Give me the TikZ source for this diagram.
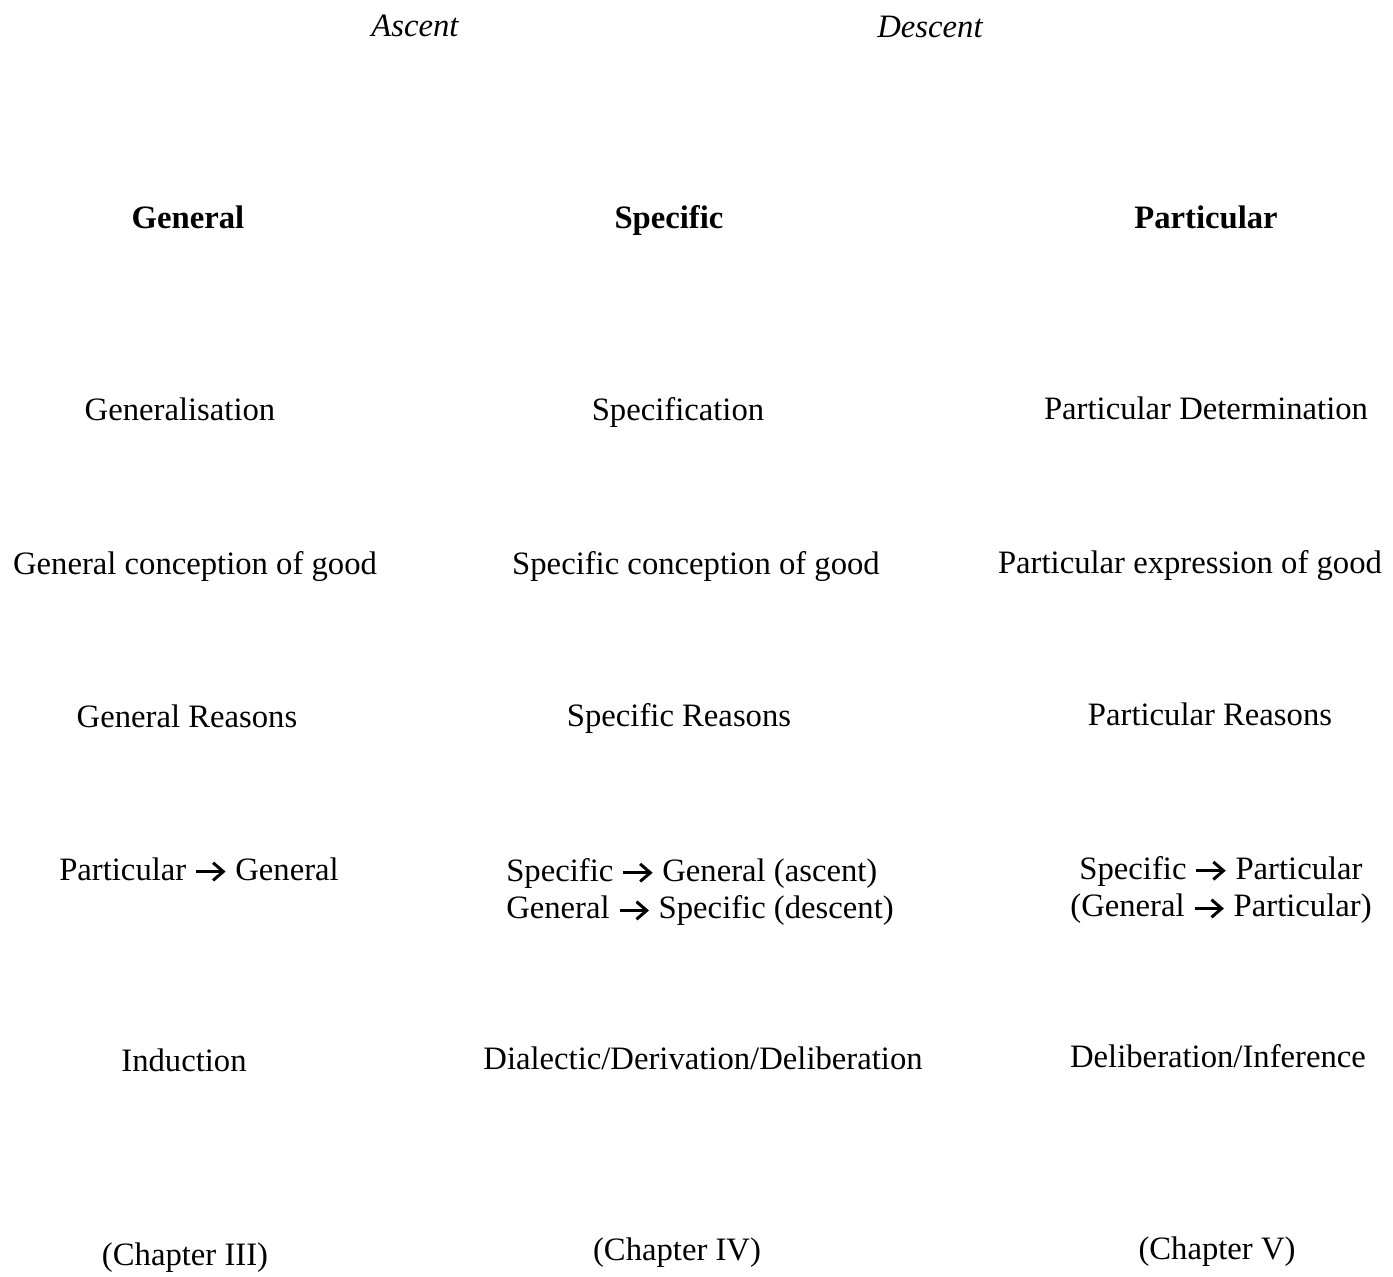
\documentclass[tikz,border=0pt]{standalone}
\usepackage{fontspec}
\setmainfont{Liberation Serif}
\usetikzlibrary{positioning}
% bold chevron arrow used in the text
\newcommand{\rarr}{\tikz[x=1pt,y=1pt,baseline=-4.8pt]{%
    \path (-1,0) -- (17.6,0);
    \draw[line width=1.7pt] (0,0) -- (15,0);
    \draw[line width=1.7pt,line join=miter] (9.6,5) -- (15.4,0) -- (9.6,-5);}}

\begin{document}
\begin{tikzpicture}[x=0.02cm,y=-0.02cm,
    every node/.style={inner sep=0pt,font=\fontsize{18.6}{21.5}\selectfont},
    cell/.style={anchor=base},
    head/.style={anchor=base,font=\fontsize{18.6}{21.5}\selectfont\bfseries},
    dir/.style={anchor=base,font=\fontsize{18.6}{21.5}\selectfont\itshape}]

    \useasboundingbox (0,0) rectangle (1393,1277);

    % ascent / descent
    \node[dir] (asc) at (415,37) {Ascent};
    \node[dir] (desc) at (930,38) {Descent};

    % column heads
    \node[head] (gen) at (188,229) {General};
    \node[head] (spec) at (669,229) {Specific};
    \node[head] (part) at (1206,229) {Particular};

    % rows
    \node[cell] (gena) at (180,420) {Generalisation};
    \node[cell] (speca) at (678,420) {Specification};
    \node[cell] (parta) at (1206,419) {Particular Determination};

    \node[cell] (genb) at (195,574) {General conception of good};
    \node[cell] (specb) at (696,574) {Specific conception of good};
    \node[cell] (partb) at (1190,573) {Particular expression of good};

    \node[cell] (genc) at (187,727) {General Reasons};
    \node[cell] (specc) at (679,726) {Specific Reasons};
    \node[cell] (partc) at (1210,725) {Particular Reasons};

    \node[cell] (gend) at (199,880) {Particular \rarr\ General};
    \node[align=left] (specd) at (700,892) {Specific \rarr\ General (ascent)\\General \rarr\ Specific (descent)};
    \node[align=center] (partd) at (1221,890) {Specific \rarr\ Particular\\(General \rarr\ Particular)};

    \node[cell] (gene) at (184,1071) {Induction};
    \node[cell] (spece) at (703,1069) {Dialectic/Derivation/Deliberation};
    \node[cell] (parte) at (1218,1067) {Deliberation/Inference};

    % chapters
    \node[cell] (genf) at (185,1265) {(Chapter III)};
    \node[cell] (specf) at (677,1260) {(Chapter IV)};
    \node[cell] (partf) at (1217,1259) {(Chapter V)};

\end{tikzpicture}
\end{document}
